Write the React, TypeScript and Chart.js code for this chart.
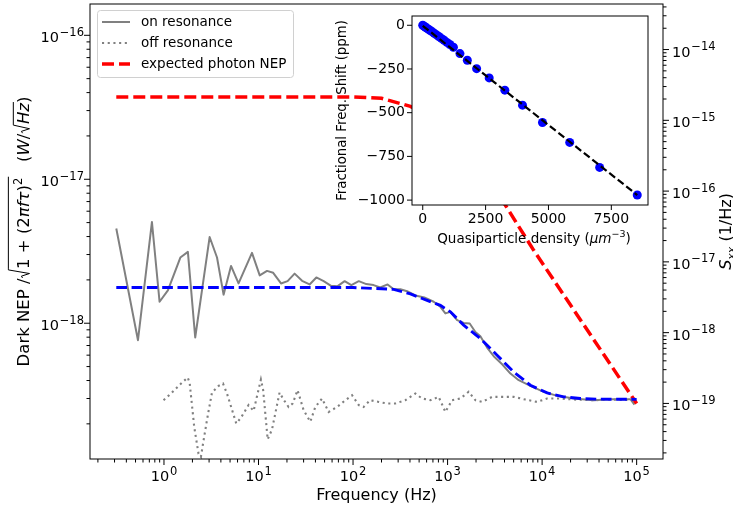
import React, { useEffect, useRef } from 'react';
import { Chart, registerables } from 'chart.js';

Chart.register(...registerables);

const FONT = "'DejaVu Sans', sans-serif";

// ---------- main chart data ----------
const onResFreq = [0.313, 0.531, 0.746, 0.898, 1.1, 1.49, 1.79, 2.14, 3.04, 3.64, 4.27, 5.12, 6.15, 8.53, 10.3, 12.3, 14.3, 17.3, 20.3, 24.1, 28.9, 34.7, 40.9, 48.9, 58.5, 68.7, 81.5, 95.9, 115, 138, 165, 194, 232, 269, 317, 373, 456, 568, 713, 839, 948, 1071, 1262, 1480, 1714, 1968, 2223, 2618, 3076, 3776, 4623, 5654, 7516, 10400, 14420, 21600, 35150, 52800, 85900, 94800];
const onResNep = [4.55e-18, 7.62e-19, 5.05e-18, 1.41e-18, 1.69e-18, 2.86e-18, 3.13e-18, 7.96e-19, 3.97e-18, 2.86e-18, 1.58e-18, 2.5e-18, 1.89e-18, 3.08e-18, 2.15e-18, 2.31e-18, 2.24e-18, 1.89e-18, 1.96e-18, 2.21e-18, 1.97e-18, 1.86e-18, 2.08e-18, 1.96e-18, 1.82e-18, 1.81e-18, 1.96e-18, 1.84e-18, 1.96e-18, 1.87e-18, 1.84e-18, 1.77e-18, 1.86e-18, 1.72e-18, 1.72e-18, 1.67e-18, 1.56e-18, 1.51e-18, 1.41e-18, 1.3e-18, 1.17e-18, 1.2e-18, 1.05e-18, 1.005e-18, 9.95e-19, 8.7e-19, 8.13e-19, 6.78e-19, 5.9e-19, 5.19e-19, 4.47e-19, 4.02e-19, 3.67e-19, 3.34e-19, 3.13e-19, 3.0e-19, 2.92e-19, 2.96e-19, 2.97e-19, 2.72e-19];

const offResFreq = [0.99, 1.215, 1.49, 1.78, 1.87, 2.09, 2.32, 2.46, 2.59, 2.89, 3.22, 3.78, 4.21, 4.64, 5.82, 6.53, 7.85, 8.87, 10.6, 11.2, 12.5, 13.9, 16.7, 18.4, 20.8, 23.0, 25.9, 30.0, 35.3, 39.9, 47.0, 55.2, 67.8, 83.0, 97.6, 115, 129, 152, 187, 229, 280, 357, 456, 537, 658, 805, 948, 1116, 1366, 1672, 1968, 2317, 2958, 3776, 5003, 6650, 8850, 11300, 15600, 21600, 35150, 52800, 93200];
const offResNep = [2.92e-19, 3.3e-19, 3.77e-19, 4.2e-19, 3.85e-19, 1.9e-19, 1.24e-19, 1.18e-19, 1.46e-19, 2.24e-19, 3.3e-19, 3.67e-19, 3.81e-19, 3.25e-19, 2.01e-19, 2.21e-19, 2.7e-19, 2.46e-19, 4.06e-19, 3.43e-19, 1.56e-19, 1.83e-19, 3.3e-19, 2.95e-19, 2.62e-19, 2.77e-19, 3.43e-19, 2.49e-19, 2.07e-19, 2.62e-19, 3.0e-19, 2.42e-19, 2.62e-19, 2.92e-19, 3.16e-19, 2.7e-19, 2.62e-19, 2.92e-19, 2.84e-19, 2.77e-19, 2.77e-19, 2.92e-19, 3.25e-19, 3.0e-19, 2.92e-19, 3.08e-19, 2.42e-19, 2.92e-19, 3.0e-19, 3.34e-19, 2.92e-19, 2.84e-19, 3.08e-19, 3.08e-19, 3.08e-19, 2.95e-19, 2.84e-19, 3.0e-19, 3.0e-19, 2.95e-19, 2.92e-19, 2.95e-19, 2.92e-19];

const fitFreq = [0.313, 100, 269, 404, 607, 839, 1071, 1480, 2223, 3340, 5003, 7516, 11300, 16900, 25400, 38200, 100000];
const fitNep = [1.77e-18, 1.77e-18, 1.72e-18, 1.6e-18, 1.44e-18, 1.33e-18, 1.2e-18, 9.7e-19, 7.83e-19, 6.0e-19, 4.59e-19, 3.71e-19, 3.28e-19, 3.08e-19, 3.0e-19, 2.97e-19, 2.96e-19];

const photonFreq = [0.313, 100, 200, 404, 700, 1000, 2000, 4090, 8150, 100000];
const photonNep = [3.73e-17, 3.73e-17, 3.65e-17, 3.21e-17, 2.65e-17, 2.1e-17, 1.25e-17, 6.6e-18, 3.21e-18, 2.77e-19];

const xTickValues = [1, 10, 100, 1000, 10000, 100000];
const yLeftTickValues = [1e-18, 1e-17, 1e-16];
const yRightTickValues = [1e-19, 1e-18, 1e-17, 1e-16, 1e-15, 1e-14];

const legendLabels = ['on resonance', 'off resonance', 'expected photon NEP'];

// ---------- inset data ----------
const qpDensity = [0, 50, 100, 160, 230, 300, 380, 460, 550, 640, 740, 850, 960, 1080, 1220, 1480, 1773, 2143, 2643, 3266, 3968, 4762, 5845, 7036, 8532];
const freqShift = [0, -5, -10, -16, -23, -30, -38, -46, -55, -64, -75, -86, -98, -110, -126, -162, -200, -248, -301, -371, -457, -556, -670, -813, -971];
const fitLineDensity = [0, 8532];
const fitLineShift = [-3, -971];
const insetXTicks = [0, 2500, 5000, 7500];
const insetYTicks = [0, -250, -500, -750, -1000];

// ---------- helpers ----------
function pts(xs: number[], ys: number[]) {
  return xs.map((x, i) => ({ x, y: ys[i] }));
}
function logMinor(min: number, max: number): number[] {
  const out: number[] = [];
  for (let d = Math.floor(Math.log10(min)) - 1; d <= Math.ceil(Math.log10(max)); d++) {
    for (let m = 2; m <= 9; m++) {
      const v = m * Math.pow(10, d);
      if (v >= min && v <= max) out.push(v);
    }
  }
  return out;
}
function noPad(s: any) {
  s.paddingTop = 0;
  s.paddingBottom = 0;
  s.paddingLeft = 0;
  s.paddingRight = 0;
}

const BASE_FS = 14.5;
const SUP_FS = 11.5;
function drawPow(ctx: CanvasRenderingContext2D, v: number, x: number, y: number, align: 'left' | 'right' | 'center') {
  const e = Math.round(Math.log10(v));
  const base = '10';
  const sup = String(e).replace('-', '−');
  ctx.font = `${BASE_FS}px ${FONT}`;
  const wb = ctx.measureText(base).width;
  ctx.font = `${SUP_FS}px ${FONT}`;
  const ws = ctx.measureText(sup).width;
  const gap = 0.8;
  const w = wb + gap + ws;
  const x0 = align === 'left' ? x : align === 'right' ? x - w : x - w / 2;
  ctx.textAlign = 'left';
  ctx.textBaseline = 'alphabetic';
  ctx.fillStyle = '#000';
  ctx.font = `${BASE_FS}px ${FONT}`;
  ctx.fillText(base, x0, y);
  ctx.font = `${SUP_FS}px ${FONT}`;
  ctx.fillText(sup, x0 + wb + gap, y - 6.5);
}

type Run = { t?: string; italic?: boolean; size?: number; dy?: number; rad?: number; end?: boolean };
function drawRuns(ctx: CanvasRenderingContext2D, runs: Run[], fs: number, cx: number, cy: number, rot: number) {
  const fontOf = (r: Run) => `${r.italic ? 'italic ' : ''}${r.size ?? fs}px ${FONT}`;
  const radW = fs * 0.58;
  let w = 0;
  for (const r of runs) {
    if (r.t) {
      ctx.font = fontOf(r);
      w += ctx.measureText(r.t).width;
    } else if (r.rad) w += radW;
  }
  ctx.save();
  ctx.translate(cx, cy);
  ctx.rotate(rot);
  ctx.textAlign = 'left';
  ctx.textBaseline = 'alphabetic';
  ctx.fillStyle = '#000';
  ctx.strokeStyle = '#000';
  ctx.lineWidth = Math.max(1, fs * 0.06);
  let x = -w / 2;
  let radStart = 0;
  let radH = 0;
  for (const r of runs) {
    if (r.t) {
      ctx.font = fontOf(r);
      ctx.fillText(r.t, x, r.dy ?? 0);
      x += ctx.measureText(r.t).width;
    } else if (r.rad) {
      radH = r.rad;
      ctx.beginPath();
      ctx.moveTo(x + 0.03 * fs, -0.36 * fs);
      ctx.lineTo(x + 0.14 * fs, -0.43 * fs);
      ctx.lineTo(x + 0.3 * fs, 0.06 * fs);
      ctx.lineTo(x + 0.52 * fs, -radH);
      ctx.lineTo(x + radW, -radH);
      ctx.stroke();
      x += radW;
      radStart = x;
    } else if (r.end) {
      ctx.beginPath();
      ctx.moveTo(radStart, -radH);
      ctx.lineTo(x + 1, -radH);
      ctx.stroke();
    }
  }
  ctx.restore();
}

const MAJ = 6;
const MINL = 3.5;

const mainDecor = {
  id: 'mainDecor',
  afterDraw(chart: any) {
    const ctx: CanvasRenderingContext2D = chart.ctx;
    const { left, right, top, bottom } = chart.chartArea;
    const xs = chart.scales.x;
    const ys = chart.scales.y;
    const y2 = chart.scales.y2;
    ctx.save();
    ctx.strokeStyle = '#000';
    ctx.lineWidth = 1;
    ctx.setLineDash([]);
    ctx.strokeRect(left, top, right - left, bottom - top);
    const seg = (a: number, b: number, c: number, d: number) => {
      ctx.beginPath();
      ctx.moveTo(a, b);
      ctx.lineTo(c, d);
      ctx.stroke();
    };
    xTickValues.forEach((v) => { const p = xs.getPixelForValue(v); seg(p, bottom, p, bottom + MAJ); });
    logMinor(xs.min, xs.max).forEach((v) => { const p = xs.getPixelForValue(v); seg(p, bottom, p, bottom + MINL); });
    yLeftTickValues.forEach((v) => { const p = ys.getPixelForValue(v); seg(left - MAJ, p, left, p); });
    logMinor(ys.min, ys.max).forEach((v) => { const p = ys.getPixelForValue(v); seg(left - MINL, p, left, p); });
    yRightTickValues.forEach((v) => { const p = y2.getPixelForValue(v); seg(right, p, right + MAJ, p); });
    logMinor(y2.min, y2.max).forEach((v) => { const p = y2.getPixelForValue(v); seg(right, p, right + MINL, p); });

    // tick labels (10 with raised exponent)
    xTickValues.forEach((v) => drawPow(ctx, v, xs.getPixelForValue(v), bottom + 22, 'center'));
    yLeftTickValues.forEach((v) => drawPow(ctx, v, left - 6, ys.getPixelForValue(v) + 7, 'right'));
    yRightTickValues.forEach((v) => drawPow(ctx, v, right + 9, y2.getPixelForValue(v) + 7, 'left'));

    // legend
    const lx = 97, ly = 10, lw = 196, lh = 67;
    ctx.beginPath();
    ctx.roundRect(lx + 0.5, ly + 0.5, lw, lh, 3);
    ctx.fillStyle = 'rgba(255,255,255,0.85)';
    ctx.fill();
    ctx.strokeStyle = '#d0d0d0';
    ctx.lineWidth = 1;
    ctx.stroke();
    const styles = [
      { c: '#808080', w: 2, d: [] as number[] },
      { c: '#808080', w: 2.1, d: [2.1, 3.6] },
      { c: '#ff0000', w: 3.5, d: [12, 5] },
    ];
    const rows = [22, 43, 64];
    legendLabels.forEach((lab, i) => {
      const s = styles[i];
      ctx.strokeStyle = s.c;
      ctx.lineWidth = s.w;
      ctx.setLineDash(s.d);
      seg(102, rows[i], 130, rows[i]);
      ctx.setLineDash([]);
      ctx.fillStyle = '#000';
      ctx.font = `13.5px ${FONT}`;
      ctx.textAlign = 'left';
      ctx.textBaseline = 'middle';
      ctx.fillText(lab, 141, rows[i]);
    });
    ctx.restore();

    // axis titles
    drawRuns(ctx, [{ t: 'Frequency (Hz)' }], 16, (left + right) / 2, 500, 0);
    const fs = 16.5;
    drawRuns(ctx, [
      { t: 'Dark NEP /' },
      { rad: 1.22 * fs },
      { t: '1 + (2' },
      { t: 'πfτ', italic: true },
      { t: ')' },
      { t: '2', size: 11.5, dy: -7 },
      { end: true },
      { t: '   (' },
      { t: 'W', italic: true },
      { t: '/' },
      { rad: 0.92 * fs },
      { t: 'Hz', italic: true },
      { end: true },
      { t: ')' },
    ], fs, 28.5, (top + bottom) / 2, -Math.PI / 2);
    drawRuns(ctx, [
      { t: 'S', italic: true },
      { t: 'xx', italic: true, size: 11, dy: 4 },
      { t: ' (1/Hz)' },
    ], 16, 730.5, (top + bottom) / 2, -Math.PI / 2);
  },
};

const insetDecor = {
  id: 'insetDecor',
  beforeDraw(chart: any) {
    const ctx: CanvasRenderingContext2D = chart.ctx;
    const { left, right, top, bottom } = chart.chartArea;
    ctx.save();
    ctx.fillStyle = '#fff';
    ctx.fillRect(left, top, right - left, bottom - top);
    ctx.restore();
  },
  afterDraw(chart: any) {
    const ctx: CanvasRenderingContext2D = chart.ctx;
    const { left, right, top, bottom } = chart.chartArea;
    const xs = chart.scales.x;
    const ys = chart.scales.y;
    ctx.save();
    ctx.strokeStyle = '#000';
    ctx.lineWidth = 1;
    ctx.strokeRect(left, top, right - left, bottom - top);
    const seg = (a: number, b: number, c: number, d: number) => {
      ctx.beginPath();
      ctx.moveTo(a, b);
      ctx.lineTo(c, d);
      ctx.stroke();
    };
    insetXTicks.forEach((v) => { const p = xs.getPixelForValue(v); seg(p, bottom, p, bottom + 5); });
    insetYTicks.forEach((v) => { const p = ys.getPixelForValue(v); seg(left - 5, p, left, p); });
    ctx.restore();
    drawRuns(ctx, [
      { t: 'Quasiparticle density (' },
      { t: 'μm', italic: true },
      { t: '−3', size: 9.5, dy: -6 },
      { t: ')' },
    ], 13.5, (left + right) / 2 + 4, 243, 0);
    drawRuns(ctx, [{ t: 'Fractional Freq. Shift (ppm)' }], 13.3, 25.5, (top + bottom) / 2, -Math.PI / 2);
  },
};

export default function App() {
  const mainRef = useRef<HTMLCanvasElement>(null);
  const insetRef = useRef<HTMLCanvasElement>(null);

  useEffect(() => {
    const main = new Chart(mainRef.current as HTMLCanvasElement, {
      type: 'line',
      data: {
        datasets: [
          { label: 'fit', data: pts(fitFreq, fitNep), borderColor: '#0000ff', borderWidth: 2.9, borderDash: [10.7, 4.6], pointRadius: 0, yAxisID: 'y', tension: 0 },
          { label: legendLabels[2], data: pts(photonFreq, photonNep), borderColor: '#ff0000', borderWidth: 3.5, borderDash: [12, 5], pointRadius: 0, yAxisID: 'y', tension: 0 },
          { label: legendLabels[1], data: pts(offResFreq, offResNep), borderColor: '#808080', borderWidth: 2.1, borderDash: [2.1, 3.6], pointRadius: 0, yAxisID: 'y', tension: 0 },
          { label: legendLabels[0], data: pts(onResFreq, onResNep), borderColor: '#808080', borderWidth: 2, borderJoinStyle: 'round', pointRadius: 0, yAxisID: 'y', tension: 0 },
        ],
      } as any,
      options: {
        animation: false,
        responsive: false,
        maintainAspectRatio: false,
        layout: { padding: { top: 4, left: 0, right: 0, bottom: 0 } },
        plugins: { legend: { display: false }, tooltip: { enabled: false } },
        scales: {
          x: {
            type: 'logarithmic', position: 'bottom', min: 0.165, max: 1.9e5,
            afterBuildTicks: (s: any) => { s.ticks = xTickValues.map((v) => ({ value: v })); },
            afterFit: (s: any) => { s.height = 52; noPad(s); },
            grid: { display: false, drawTicks: false }, border: { display: false },
            ticks: { display: false },
          },
          y: {
            type: 'logarithmic', position: 'left', min: 1.14e-19, max: 1.65e-16,
            afterBuildTicks: (s: any) => { s.ticks = yLeftTickValues.map((v) => ({ value: v })); },
            afterFit: (s: any) => { s.width = 90; noPad(s); },
            grid: { display: false, drawTicks: false }, border: { display: false },
            ticks: { display: false },
          },
          y2: {
            type: 'logarithmic', position: 'right', min: 1.64e-20, max: 4.4e-14,
            afterBuildTicks: (s: any) => { s.ticks = yRightTickValues.map((v) => ({ value: v })); },
            afterFit: (s: any) => { s.width = 70; noPad(s); },
            grid: { display: false, drawTicks: false }, border: { display: false },
            ticks: { display: false },
          },
        },
      } as any,
      plugins: [mainDecor],
    });

    const insetFont = { family: FONT, size: 14 };
    const inset = new Chart(insetRef.current as HTMLCanvasElement, {
      type: 'scatter',
      data: {
        datasets: [
          { label: 'linear fit', data: pts(fitLineDensity, fitLineShift), showLine: true, borderColor: '#000', borderWidth: 2.2, borderDash: [7.4, 3.4], pointRadius: 0 },
          { label: 'shift', data: pts(qpDensity, freqShift), backgroundColor: '#0000ff', borderWidth: 0, pointRadius: 4.5, showLine: false },
        ],
      } as any,
      options: {
        animation: false,
        responsive: false,
        maintainAspectRatio: false,
        layout: { padding: { top: 16, left: 0, right: 12, bottom: 0 } },
        plugins: { legend: { display: false }, tooltip: { enabled: false } },
        scales: {
          x: {
            type: 'linear', min: -427, max: 8959,
            afterBuildTicks: (s: any) => { s.ticks = insetXTicks.map((v) => ({ value: v })); },
            afterFit: (s: any) => { s.height = 55; noPad(s); },
            grid: { display: false, drawTicks: false }, border: { display: false },
            ticks: { callback: (v: any) => String(v), autoSkip: false, maxRotation: 0, minRotation: 0, padding: 6, color: '#000', font: insetFont },
          },
          y: {
            type: 'linear', min: -1028, max: 53,
            afterBuildTicks: (s: any) => { s.ticks = insetYTicks.map((v) => ({ value: v })); },
            afterFit: (s: any) => { s.width = 92; noPad(s); },
            grid: { display: false, drawTicks: false }, border: { display: false },
            ticks: { callback: (v: any) => String(v).replace('-', '−'), autoSkip: false, padding: 7, color: '#000', font: insetFont },
          },
        },
      } as any,
      plugins: [insetDecor],
    });

    return () => {
      main.destroy();
      inset.destroy();
    };
  }, []);

  return (
    <div style={{ position: 'fixed', left: 0, top: 0, width: 733, height: 511, background: '#fff', overflow: 'hidden' }}>
      <canvas ref={mainRef} width={733} height={511} style={{ position: 'absolute', left: 0, top: 0, width: 733, height: 511 }} />
      <canvas ref={insetRef} width={340} height={260} style={{ position: 'absolute', left: 320, top: 0, width: 340, height: 260 }} />
    </div>
  );
}
